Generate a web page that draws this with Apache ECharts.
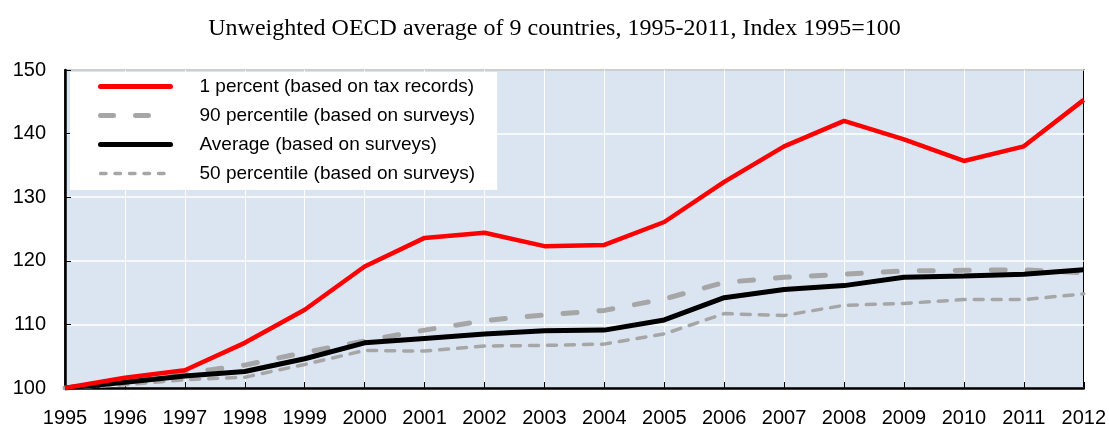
<!DOCTYPE html>
<html>
<head>
<meta charset="utf-8">
<script src="https://cdn.jsdelivr.net/npm/echarts@6/dist/echarts.min.js"></script>
<style>
html,body{margin:0;padding:0;background:#fff;}
#chart{width:1109px;height:428px;}
</style>
</head>
<body>
<div id="chart"></div>
<script>
const titleText = 'Unweighted OECD average of 9 countries, 1995-2011, Index 1995=100';
const years = ['1995','1996','1997','1998','1999','2000','2001','2002','2003','2004','2005','2006','2007','2008','2009','2010','2011','2012'];
const top1 = [100, 101.6, 102.8, 107.1, 112.3, 119.1, 123.6, 124.4, 122.3, 122.5, 126.1, 132.4, 138.0, 142.0, 139.1, 135.7, 138.0, 145.3];
const p90 = [100, 101.0, 102.3, 103.6, 105.6, 107.4, 109.1, 110.6, 111.5, 112.2, 114.0, 116.6, 117.4, 117.9, 118.4, 118.5, 118.6, 118.1];
const avg = [100, 100.9, 101.9, 102.6, 104.6, 107.1, 107.8, 108.5, 109.0, 109.1, 110.7, 114.2, 115.5, 116.1, 117.4, 117.6, 117.9, 118.6];
const p50 = [100, 100.5, 101.3, 101.7, 103.7, 105.9, 105.8, 106.6, 106.7, 106.9, 108.5, 111.7, 111.4, 113.0, 113.3, 113.9, 113.9, 114.8];
const names = ['1 percent (based on tax records)', '90 percentile (based on surveys)', 'Average (based on surveys)', '50 percentile (based on surveys)'];

const FONT = '"Liberation Sans Narrow", "Arial Narrow", "Liberation Sans", Arial, sans-serif';
const RED = '#ff0000', GREY = '#a6a6a6', BLACK = '#000000';
const chart = echarts.init(document.getElementById('chart'));
chart.setOption({
  animation: false,
  backgroundColor: '#ffffff',
  title: {
    text: titleText, left: 'center', top: 12,
    textStyle: {fontFamily: '"Liberation Serif", "Times New Roman", serif', fontSize: 24, fontWeight: 'normal', color: '#000'}
  },
  legend: {
    orient: 'vertical', left: 70, top: 72,
    backgroundColor: '#ffffff',
    padding: [5, 22, 7, 28],
    itemWidth: 70, itemHeight: 14, itemGap: 10,
    itemStyle: {opacity: 0},
    textStyle: {fontFamily: FONT, fontSize: 19, color: '#000', padding: [0, 0, 0, 24]},
    data: [
      {name: names[0], lineStyle: {color: RED, width: 5, cap: 'round', type: 'solid'}},
      {name: names[1], lineStyle: {color: GREY, width: 5, cap: 'round', type: [13, 22]}},
      {name: names[2], lineStyle: {color: BLACK, width: 5, cap: 'round', type: 'solid'}},
      {name: names[3], lineStyle: {color: GREY, width: 3.5, cap: 'round', type: [5.5, 9]}}
    ]
  },
  grid: {
    left: 65, right: 24, top: 70, bottom: 40,
    show: true, backgroundColor: '#dbe5f1', borderColor: '#000', borderWidth: 1.5
  },
  xAxis: {
    type: 'category', data: years, boundaryGap: false,
    axisLine: {lineStyle: {color: '#000', width: 2.5}},
    axisTick: {inside: true, length: 6, lineStyle: {color: '#000', width: 1}},
    axisLabel: {fontFamily: FONT, fontSize: 20, color: '#000', margin: 20, interval: 0},
    splitLine: {show: true, lineStyle: {color: '#ffffff', width: 1}}
  },
  yAxis: {
    type: 'value', min: 100, max: 150, interval: 10,
    axisLine: {show: true, lineStyle: {color: '#000', width: 2.5}},
    axisTick: {show: true, inside: true, length: 6, lineStyle: {color: '#000', width: 1}},
    axisLabel: {fontFamily: FONT, fontSize: 20, color: '#000', margin: 19},
    splitLine: {show: true, lineStyle: {color: '#ffffff', width: 1.5}}
  },
  series: [
    {name: names[0], type: 'line', data: top1, symbol: 'none', z: 5,
     lineStyle: {color: RED, width: 4.5}, itemStyle: {color: RED}},
    {name: names[1], type: 'line', data: p90, symbol: 'none', z: 3,
     lineStyle: {color: GREY, width: 5, type: [14, 22], cap: 'round'}, itemStyle: {color: GREY}},
    {name: names[2], type: 'line', data: avg, symbol: 'none', z: 4,
     lineStyle: {color: BLACK, width: 5}, itemStyle: {color: BLACK}},
    {name: names[3], type: 'line', data: p50, symbol: 'none', z: 2,
     lineStyle: {color: GREY, width: 3.5, type: [9, 9], cap: 'round'}, itemStyle: {color: GREY}}
  ]
});
</script>
</body>
</html>
